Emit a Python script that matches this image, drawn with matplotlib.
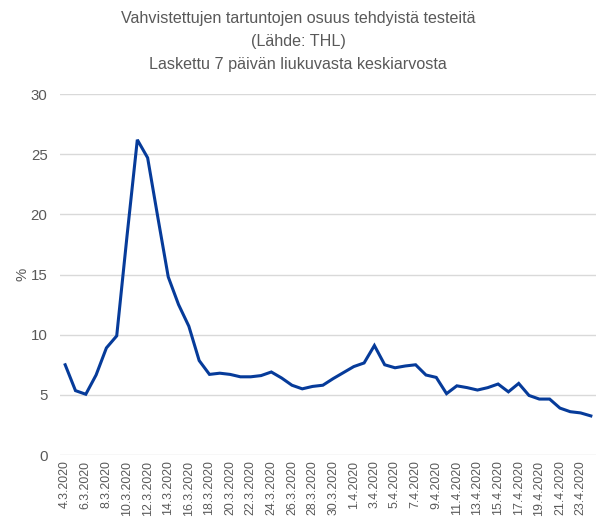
import matplotlib
matplotlib.use("Agg")
import matplotlib.pyplot as plt
import pandas as pd

plt.rcParams['font.family'] = ['Liberation Sans', 'DejaVu Sans']

dates = pd.date_range("2020-03-04", "2020-04-24", freq="D")
labels = [f"{d.day}.{d.month}.{d.year}" for d in dates]

values = [7.5, 5.35, 5.05, 6.65, 8.9, 9.9, 18.2, 26.2, 24.7, 19.7,
          14.8, 12.5, 10.7, 7.85, 6.7, 6.8, 6.7, 6.5, 6.5, 6.6,
          6.9, 6.4, 5.8, 5.5, 5.7, 5.8, 6.35, 6.85, 7.35, 7.65,
          9.1, 7.5, 7.25, 7.4, 7.5, 6.65, 6.45, 5.1, 5.75, 5.6,
          5.4, 5.6, 5.9, 5.25, 5.95, 4.95, 4.65, 4.65, 3.9, 3.6,
          3.5, 3.25]

title = "Vahvistettujen tartuntojen osuus tehdyistä testeitä\n(Lähde: THL)\nLaskettu 7 päivän liukuvasta keskiarvosta"

fig = plt.figure(figsize=(5.96, 5.25), dpi=100)
ax = fig.add_axes([0.1007, 0.1333, 0.8993, 0.6876])

x = list(range(len(values)))
ax.plot(x, values, color="#063b9a", lw=2.2, solid_joinstyle="miter")

ax.set_xlim(-0.5, len(values) - 0.5)
ax.set_ylim(0, 30)
ax.set_yticks([0, 5, 10, 15, 20, 25, 30])
ax.set_xticks(x[::2])
ax.set_xticklabels(labels[::2], rotation=90, fontsize=8.9, color="#595959")
ax.tick_params(axis="y", labelsize=10.8, colors="#595959", length=0, pad=9)
ax.tick_params(axis="x", length=0, pad=4)
ax.grid(axis="y", color="#d9d9d9", lw=1)
ax.set_axisbelow(True)
for s in ax.spines.values():
    s.set_visible(False)

ax.set_ylabel("%", fontsize=10.8, color="#595959", labelpad=1)

fig.text(0.5, 0.979, title, ha="center", va="top", fontsize=11.6,
         color="#595959", linespacing=1.68)

fig.savefig("out.png", dpi=100)
